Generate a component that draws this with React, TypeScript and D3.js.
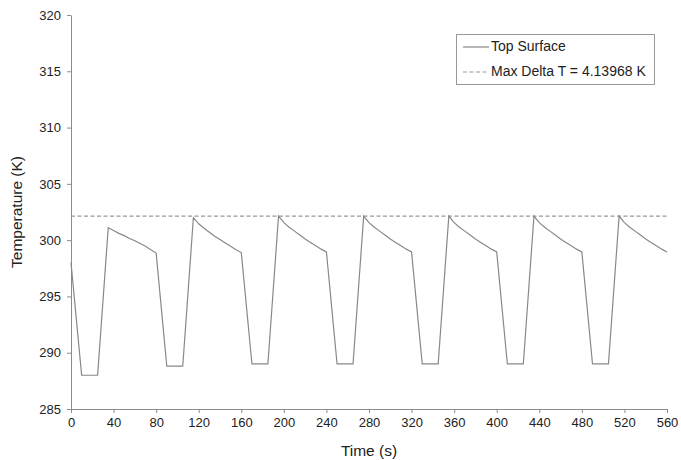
import React, { useEffect, useRef } from "react";
import * as d3 from "d3";

// time points (s) and top surface temperature (K)
const timeS = [
    0, 10, 25, 35, 40, 45, 50, 55, 60, 65, 70, 75, 80,
    90, 105, 115, 120, 125, 130, 135, 140, 145, 150, 155, 160,
    170, 185, 195, 200, 205, 210, 215, 220, 225, 230, 235, 240,
    250, 265, 275, 280, 285, 290, 295, 300, 305, 310, 315, 320,
    330, 345, 355, 360, 365, 370, 375, 380, 385, 390, 395, 400,
    410, 425, 435, 440, 445, 450, 455, 460, 465, 470, 475, 480,
    490, 505, 515, 520, 525, 530, 535, 540, 545, 550, 555, 560
];
const topSurfaceK = [
    298.0, 288.0, 288.0, 301.1, 300.85, 300.6, 300.4, 300.15, 299.95, 299.7, 299.45, 299.15, 298.85,
    288.8, 288.8, 302.0, 301.45, 301.05, 300.7, 300.35, 300.05, 299.75, 299.45, 299.15, 298.9,
    289.0, 289.0, 302.13, 301.55, 301.15, 300.8, 300.45, 300.1, 299.8, 299.5, 299.2, 298.95,
    289.0, 289.0, 302.13, 301.55, 301.15, 300.8, 300.45, 300.1, 299.8, 299.5, 299.2, 298.95,
    289.0, 289.0, 302.13, 301.55, 301.15, 300.8, 300.45, 300.1, 299.8, 299.5, 299.2, 298.95,
    289.0, 289.0, 302.13, 301.55, 301.15, 300.8, 300.45, 300.1, 299.8, 299.5, 299.2, 298.95,
    289.0, 289.0, 302.13, 301.55, 301.15, 300.8, 300.45, 300.1, 299.8, 299.5, 299.2, 298.95
];
const maxLineK = 302.13;
const xTicks = [0, 40, 80, 120, 160, 200, 240, 280, 320, 360, 400, 440, 480, 520, 560];
const yTicks = [285, 290, 295, 300, 305, 310, 315, 320];
const legendLabels = ["Top Surface", "Max Delta T = 4.13968 K"];

function App() {
    const chart = useRef<SVGSVGElement>(null);

    useEffect(() => {
        const width = 681;
        const height = 460;
        const margin = { top: 15, right: 14, bottom: 51, left: 71 };
        const font = "'Liberation Sans', Arial, sans-serif";
        const axisColour = "#8c8c8c";

        const svg = d3.select(chart.current)
            .attr("width", width)
            .attr("height", height)
            .style("font-family", font);

        const x = d3.scaleLinear().domain([0, 560]).range([margin.left, width - margin.right]);
        const y = d3.scaleLinear().domain([285, 320]).range([height - margin.bottom, margin.top]);

        // x axis
        const xAxis = svg.append("g")
            .attr("transform", `translate(0,${y(285)})`)
            .call(d3.axisBottom(x).tickValues(xTicks).tickSize(4).tickSizeOuter(0).tickPadding(5));
        xAxis.select(".domain").attr("stroke", axisColour);
        xAxis.selectAll(".tick line").attr("stroke", axisColour);
        xAxis.selectAll(".tick text")
            .attr("fill", "#222")
            .style("font-size", "13px")
            .style("font-family", font);

        // y axis
        const yAxis = svg.append("g")
            .attr("transform", `translate(${x(0)},0)`)
            .call(d3.axisLeft(y).tickValues(yTicks).tickSize(4).tickSizeOuter(0).tickPadding(6));
        yAxis.select(".domain").attr("stroke", axisColour);
        yAxis.selectAll(".tick line").attr("stroke", axisColour);
        yAxis.selectAll(".tick text")
            .attr("fill", "#222")
            .style("font-size", "13px")
            .style("font-family", font);

        // axis titles
        svg.append("text")
            .attr("x", (x(0) + x(560)) / 2)
            .attr("y", 452)
            .attr("text-anchor", "middle")
            .attr("dominant-baseline", "middle")
            .style("font-size", "15.5px")
            .attr("fill", "#222")
            .text("Time (s)");
        svg.append("text")
            .attr("transform", `translate(18,${(y(285) + y(320)) / 2}) rotate(-90)`)
            .attr("text-anchor", "middle")
            .attr("dominant-baseline", "middle")
            .style("font-size", "15.5px")
            .attr("fill", "#222")
            .text("Temperature (K)");

        // max delta line
        svg.append("line")
            .attr("x1", x(0))
            .attr("x2", x(560))
            .attr("y1", y(maxLineK))
            .attr("y2", y(maxLineK))
            .attr("stroke", "#999")
            .attr("stroke-width", 1.2)
            .attr("stroke-dasharray", "4,2.5");

        // temperature line
        const line = d3.line<number>()
            .x((d, i) => x(timeS[i]))
            .y(d => y(d));
        svg.append("path")
            .datum(topSurfaceK)
            .attr("d", line)
            .attr("fill", "none")
            .attr("stroke", "#888")
            .attr("stroke-width", 1.2);

        // legend
        const legend = svg.append("g").attr("transform", "translate(456,34)");
        legend.append("rect")
            .attr("x", 0.5)
            .attr("y", 0.5)
            .attr("width", 198)
            .attr("height", 50)
            .attr("fill", "#fff")
            .attr("stroke", "#999");
        legendLabels.forEach((label, i) => {
            const cy = 13 + i * 25;
            legend.append("line")
                .attr("x1", 7)
                .attr("x2", 33)
                .attr("y1", cy)
                .attr("y2", cy)
                .attr("stroke", i === 0 ? "#888" : "#999")
                .attr("stroke-width", 1.2)
                .attr("stroke-dasharray", i === 0 ? null : "4,2.5");
            legend.append("text")
                .attr("x", 35)
                .attr("y", cy)
                .attr("dominant-baseline", "middle")
                .style("font-size", "14px")
                .attr("fill", "#222")
                .text(label);
        });

        return () => {
            svg.selectAll("*").remove();
        };
    }, []);

    return (
        <svg ref={chart} style={{ position: "absolute", left: 0, top: 0 }}></svg>
    );
}

export default App;
